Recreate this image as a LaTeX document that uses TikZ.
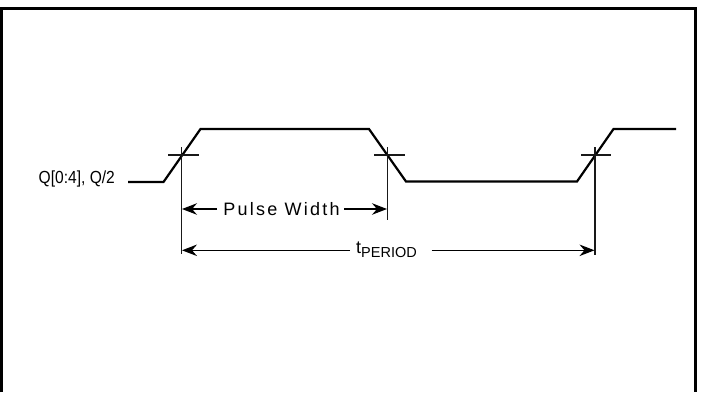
\documentclass[tikz,border=0pt]{standalone}
\usepackage{fontspec}
\setmainfont{Liberation Sans}
\newfontfamily\narrowfont[FakeStretch=0.89]{Liberation Sans}
\newfontfamily\spacedfont[LetterSpace=12.5]{Liberation Sans}
\usetikzlibrary{arrows.meta}
\tikzset{
  px/.style={x=1pt,y=-1pt},
  frameline/.style={line width=3.2pt,black,line cap=butt,line join=miter},
  wave/.style={line width=2.2pt,black,line join=miter},
  thin line/.style={line width=1.1pt,black!90},
  dim/.style={line width=1.1pt,black,-{Stealth[length=15pt,width=11.5pt,inset=5pt]}},
  lbl/.style={inner sep=0pt}
}
\begin{document}
\begin{tikzpicture}[px]
\useasboundingbox (0,0) rectangle (718,392);
\fill[white] (0,0) rectangle (718,392);
% frame
\coordinate (fa) at (1.6,392);
\coordinate (fb) at (1.6,8.4);
\coordinate (fc) at (695.4,8.4);
\coordinate (fd) at (695.4,392);
\draw[frameline] (fa) -- (fb) -- (fc) -- (fd);
% waveform
\coordinate (w0) at (128,182);
\coordinate (w1) at (163.5,182);
\coordinate (w2) at (200.5,129);
\coordinate (w3) at (369,129);
\coordinate (w4) at (406,181.5);
\coordinate (w5) at (577,181.5);
\coordinate (w6) at (613.5,129);
\coordinate (w7) at (676,129);
\draw[wave] (w0) -- (w1) -- (w2) -- (w3) -- (w4) -- (w5) -- (w6) -- (w7);
% thresholds
\coordinate (t1a) at (168,155); \coordinate (t1b) at (198.5,155);
\coordinate (t2a) at (374,155); \coordinate (t2b) at (405,155);
\coordinate (t3a) at (581,155); \coordinate (t3b) at (611,155);
\draw[thin line] (t1a) -- (t1b);
\draw[thin line] (t2a) -- (t2b);
\draw[thin line] (t3a) -- (t3b);
% extension lines
\coordinate (v1a) at (181.5,147); \coordinate (v1b) at (181.5,253.5);
\coordinate (v2a) at (387.5,147); \coordinate (v2b) at (387.5,219.5);
\coordinate (v3a) at (595,147); \coordinate (v3b) at (595,255);
\draw[thin line] (v1a) -- (v1b);
\draw[thin line] (v2a) -- (v2b);
\draw[thin line] (v3a) -- (v3b);
% labels
\node[lbl,anchor=base west] (q) at (38.5,183) {\narrowfont\fontsize{17.5pt}{19pt}\selectfont Q[0:4], Q/2};
\node[lbl,anchor=base] (pw) at (281.5,215) {\spacedfont\fontsize{18pt}{20pt}\selectfont Pulse Width};
\node[lbl,anchor=base west] (tp) at (356,253) {\fontsize{18pt}{20pt}\selectfont t\raisebox{-4.7pt}{\fontsize{14.5pt}{16pt}\selectfont PERIOD}};
% dimension arrows
\coordinate (p1) at (182,209); \coordinate (p2) at (387,209);
\coordinate (r1) at (182,250.3); \coordinate (r2) at (594.5,250.3);
\coordinate (pl) at (217,209); \coordinate (pr) at (344,209);
\coordinate (rl) at (350,250.3); \coordinate (rr) at (431.5,250.3);
\draw[dim] (pl) -- (p1);
\draw[dim] (pr) -- (p2);
\draw[dim] (rl) -- (r1);
\draw[dim] (rr) -- (r2);
\end{tikzpicture}
\end{document}
